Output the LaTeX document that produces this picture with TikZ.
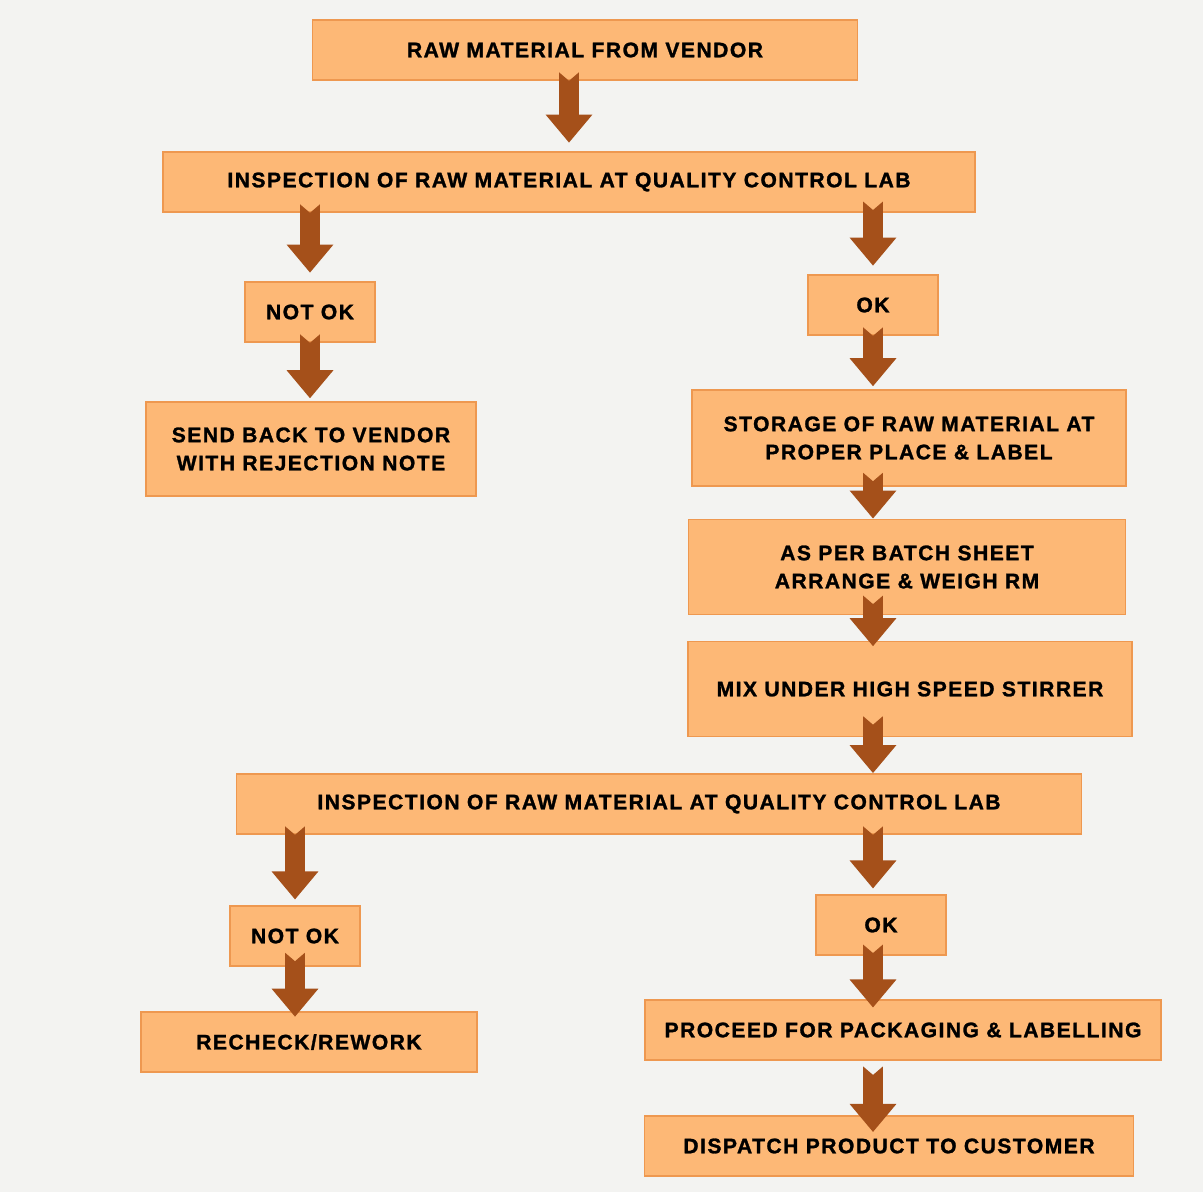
\documentclass[tikz,border=0pt]{standalone}
\usepackage{fontspec}
\newfontfamily\boxfont[LetterSpace=7, BoldFeatures={FakeBold=1.3}]{Liberation Sans}
\usepackage{tikz}
\usetikzlibrary{positioning,arrows.meta}
\definecolor{BoxOrange}{HTML}{FDB876}
\definecolor{BoxEdge}{HTML}{EE9850}
\definecolor{ArrowBrown}{HTML}{A5501A}
\definecolor{PaperGrey}{HTML}{F3F3F1}

\begin{document}
\begin{tikzpicture}[x=0.025cm, y=-0.025cm,
    box/.style={draw=BoxEdge, line width=1.2pt, fill=BoxOrange, rectangle, inner sep=0pt, align=center,
        font=\boxfont\bfseries\fontsize{15}{20}\selectfont},
    size/.style 2 args={minimum width=#1*0.025cm, minimum height=#2*0.025cm},
    flow/.style={draw=ArrowBrown, line width=14pt, {Triangle Cap[reversed, length=6pt]}-{Triangle[width=32pt, length=20pt]}}]
    \fill[PaperGrey] (0,0) rectangle (1203,1192);
    \useasboundingbox (0,0) rectangle (1203,1192);

    \node[box, size={545}{60}] (vendor) at (585,50) {RAW MATERIAL FROM VENDOR};
    \node[box, size={812}{60}] (qclab) at (569,182) {INSPECTION OF RAW MATERIAL AT QUALITY CONTROL LAB};
    \node[box, size={130}{60}] (notok) at (310,312) {NOT OK};
    \node[box, size={130}{60}] (ok) at (873,305) {OK};
    \node[box, size={330}{94}] (sendback) at (311,449) {SEND BACK TO VENDOR\\WITH REJECTION NOTE};
    \node[box, size={434}{96}] (storage) at (909,438) {STORAGE OF RAW MATERIAL AT\\PROPER PLACE \& LABEL};
    \node[box, size={437}{95}] (weigh) at (907,567) {AS PER BATCH SHEET\\ARRANGE \& WEIGH RM};
    \node[box, size={444}{95}] (mix) at (910,689) {MIX UNDER HIGH SPEED STIRRER};
    \node[box, size={845}{60}] (qclabb) at (659,804) {INSPECTION OF RAW MATERIAL AT QUALITY CONTROL LAB};
    \node[box, size={130}{60}] (notokb) at (295,936) {NOT OK};
    \node[box, size={130}{60}] (okb) at (881,925) {OK};
    \node[box, size={336}{60}] (rework) at (309,1042) {RECHECK/REWORK};
    \node[box, size={516}{60}] (packing) at (903,1030) {PROCEED FOR PACKAGING \& LABELLING};
    \node[box, size={489}{60}] (dispatch) at (889,1146) {DISPATCH PRODUCT TO CUSTOMER};

    \draw[flow] ([yshift=6pt]vendor.south -| qclab) -- ([yshift=6pt]qclab.north);
    \draw[flow] ([yshift=6pt]qclab.south -| notok) -- ([yshift=6pt]notok.north);
    \draw[flow] ([yshift=8pt]qclab.south -| ok) -- ([yshift=6pt]ok.north);
    \draw[flow] ([yshift=6pt]notok.south) -- ([yshift=2pt]sendback.north -| notok);
    \draw[flow] ([yshift=6pt]ok.south) -- ([yshift=2pt]storage.north -| ok);
    \draw[flow] ([yshift=10pt]storage.south -| ok) -- (weigh.north -| ok);
    \draw[flow] ([yshift=14pt]weigh.south -| ok) -- ([yshift=-4pt]mix.north -| ok);
    \draw[flow] ([yshift=15pt]mix.south -| ok) -- (qclabb.north -| ok);
    \draw[flow] ([yshift=6pt]qclabb.south -| notokb) -- ([yshift=4pt]notokb.north);
    \draw[flow] ([yshift=6pt]qclabb.south -| ok) -- ([yshift=4pt]okb.north -| ok);
    \draw[flow] ([yshift=10pt]notokb.south) -- ([yshift=-4pt]rework.north -| notokb);
    \draw[flow] ([yshift=8pt]okb.south -| ok) -- ([yshift=-6pt]packing.north -| ok);
    \draw[flow] ([yshift=-4pt]packing.south -| ok) -- ([yshift=-12pt]dispatch.north -| ok);
\end{tikzpicture}
\end{document}
